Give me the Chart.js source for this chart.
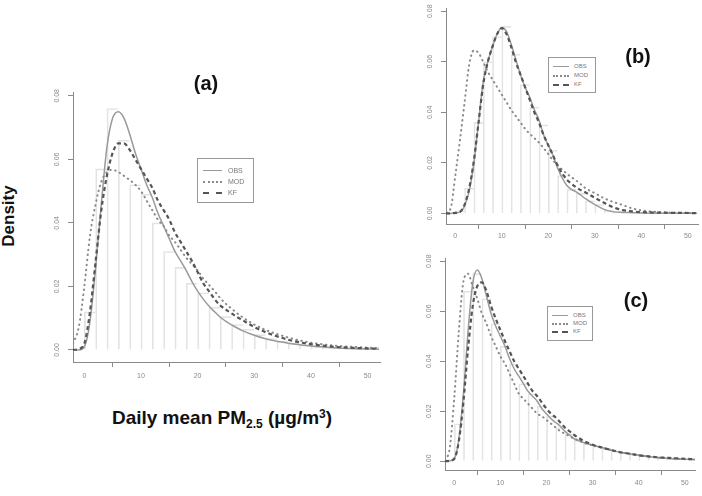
<!DOCTYPE html>
<html>
<head>
<meta charset="utf-8">
<script src="https://cdn.jsdelivr.net/npm/chart.js@4.4.1/dist/chart.umd.min.js"></script>
<style>
  body { margin: 0; width: 702px; height: 496px; background: #fff; position: relative; overflow: hidden; font-family: "Liberation Sans", Arial, sans-serif; }
  canvas { position: absolute; }
  .lbl { position: absolute; font-weight: bold; color: #111; white-space: nowrap; line-height: 1; }
  .lbl sub { font-size: 12px; vertical-align: -4px; line-height: 0; }
  .lbl sup { font-size: 12px; vertical-align: 6px; line-height: 0; }
  .legend { position: absolute; border: 1px solid #999; box-sizing: border-box; background: #fff; }
  .legend .ln { position: absolute; height: 0; }
  .legend .tx { position: absolute; color: #777; line-height: 1; transform: translateY(-50%); }
</style>
</head>
<body>
<canvas id="chartA" width="347" height="305" style="left:38px;top:82px"></canvas>
<canvas id="chartB" width="291" height="249" style="left:411px;top:0px"></canvas>
<canvas id="chartC" width="290" height="245" style="left:410px;top:250px"></canvas>

<div class="lbl" style="left:206px;top:83px;font-size:20px;transform:translate(-50%,-50%)">(a)</div>
<div class="lbl" style="left:638px;top:56px;font-size:20px;transform:translate(-50%,-50%)">(b)</div>
<div class="lbl" style="left:636px;top:300px;font-size:20px;transform:translate(-50%,-50%)">(c)</div>
<div class="lbl" style="left:8px;top:216px;font-size:17px;transform:translate(-50%,-50%) rotate(-90deg)">Density</div>
<div class="lbl" style="left:222px;top:417px;font-size:19px;transform:translate(-50%,-50%)">Daily mean PM<sub>2.5</sub> (µg/m<sup>3</sup>)</div>

<script>
// x positions of the density curves
const xGrid = [-2, -1, 0, 1, 2, 3, 4, 5, 6, 7, 8, 9, 10, 11, 12, 13, 14, 15, 16, 17, 18, 19, 20,
  21, 22, 23, 24, 25, 26, 27, 28, 30, 32, 34, 36, 38, 40, 44, 48, 52];
// histogram bins, width 2, centres
const binCenters = [1, 3, 5, 7, 9, 11, 13, 15, 17, 19, 21, 23, 25, 27, 29, 31, 33, 35, 37, 39, 41, 43, 45, 47, 49, 51];
const xTicks = [0, 10, 20, 30, 40, 50];
const yTicks = [0, 0.02, 0.04, 0.06, 0.08];
const seriesNames = ['OBS', 'MOD', 'KF'];

// panel (a)
const histA = [0.012, 0.057, 0.076, 0.066, 0.052, 0.049, 0.040, 0.031, 0.026, 0.021, 0.018, 0.0135, 0.0105,
  0.008, 0.0065, 0.0048, 0.0036, 0.0028, 0.0021, 0.0016, 0.0012, 0.0009, 0.0007, 0.0005, 0.0004, 0.0003];
const obsA = [0, 0, 0.001, 0.009, 0.026, 0.046, 0.064, 0.073, 0.075, 0.073, 0.068, 0.062, 0.057, 0.052, 0.048,
  0.043, 0.039, 0.035, 0.031, 0.028, 0.025, 0.0215, 0.0185, 0.016, 0.0138, 0.012, 0.0103, 0.009, 0.0079,
  0.0069, 0.006, 0.0046, 0.0035, 0.0027, 0.0021, 0.0016, 0.0012, 0.0007, 0.0004, 0.0002];
const modA = [0.002, 0.007, 0.020, 0.036, 0.046, 0.053, 0.056, 0.0567, 0.056, 0.0548, 0.0535, 0.052, 0.050,
  0.047, 0.044, 0.041, 0.039, 0.036, 0.034, 0.0315, 0.029, 0.027, 0.025, 0.0225, 0.0205, 0.0185, 0.0163,
  0.0145, 0.013, 0.0115, 0.0102, 0.008, 0.0063, 0.005, 0.0039, 0.003, 0.0023, 0.0014, 0.0009, 0.0006];
const kfA = [0, 0.0003, 0.002, 0.012, 0.028, 0.044, 0.055, 0.062, 0.065, 0.065, 0.063, 0.060, 0.057, 0.054,
  0.051, 0.047, 0.044, 0.041, 0.037, 0.034, 0.031, 0.028, 0.0245, 0.021, 0.0185, 0.016, 0.014, 0.0127,
  0.0115, 0.0103, 0.0093, 0.0072, 0.0056, 0.0043, 0.0032, 0.0024, 0.0018, 0.001, 0.0006, 0.0004];

// panel (b)
const histB = [0.001, 0.010, 0.036, 0.060, 0.070, 0.074, 0.063, 0.051, 0.042, 0.035, 0.025, 0.015, 0.0095,
  0.008, 0.005, 0.0035, 0.0012, 0.0006, 0.0004, 0.0003, 0.0002, 0.0001, 0.0001, 0.0001, 0.0001, 0.0001];
const obsB = [0, 0, 0.0002, 0.0005, 0.003, 0.009, 0.020, 0.036, 0.052, 0.060, 0.066, 0.071, 0.0736, 0.072,
  0.067, 0.061, 0.055, 0.050, 0.046, 0.041, 0.037, 0.031, 0.027, 0.023, 0.018, 0.014, 0.011, 0.0095, 0.0085,
  0.0072, 0.0058, 0.0035, 0.0016, 0.0006, 0.0004, 0.0003, 0.0002, 0.0001, 0.0001, 0.0001];
const modB = [0.0005, 0.002, 0.015, 0.029, 0.044, 0.059, 0.0645, 0.0635, 0.060, 0.056, 0.053, 0.050, 0.047,
  0.044, 0.041, 0.0385, 0.036, 0.0335, 0.0315, 0.0298, 0.028, 0.0258, 0.0235, 0.021, 0.019, 0.0173, 0.0157,
  0.0143, 0.013, 0.0115, 0.010, 0.008, 0.006, 0.0045, 0.0033, 0.002, 0.0012, 0.0005, 0.0002, 0.0001];
const kfB = [0, 0, 0.0002, 0.0006, 0.0035, 0.010, 0.021, 0.036, 0.051, 0.060, 0.066, 0.071, 0.0733, 0.071,
  0.066, 0.060, 0.055, 0.050, 0.045, 0.040, 0.036, 0.031, 0.027, 0.023, 0.019, 0.0158, 0.0133, 0.0117,
  0.0103, 0.0092, 0.0083, 0.0062, 0.0042, 0.0024, 0.0013, 0.0008, 0.0005, 0.0003, 0.0002, 0.0001];

// panel (c)
const histC = [0.015, 0.068, 0.075, 0.065, 0.055, 0.046, 0.039, 0.031, 0.027, 0.022, 0.018, 0.0135, 0.011,
  0.0085, 0.007, 0.006, 0.0052, 0.0042, 0.0034, 0.0028, 0.0022, 0.0018, 0.0014, 0.0012, 0.001, 0.0008];
const obsC = [0, 0.0002, 0.001, 0.009, 0.027, 0.052, 0.071, 0.0765, 0.073, 0.066, 0.059, 0.054, 0.050, 0.046,
  0.041, 0.037, 0.034, 0.031, 0.028, 0.026, 0.024, 0.021, 0.019, 0.017, 0.0155, 0.014, 0.012, 0.0105, 0.009,
  0.0082, 0.0075, 0.0064, 0.0055, 0.0045, 0.0036, 0.003, 0.0024, 0.0015, 0.001, 0.0007];
const modC = [0.0005, 0.005, 0.025, 0.052, 0.072, 0.075, 0.070, 0.065, 0.059, 0.055, 0.050, 0.046, 0.042,
  0.039, 0.035, 0.031, 0.027, 0.025, 0.023, 0.021, 0.019, 0.018, 0.0165, 0.015, 0.0135, 0.012, 0.011, 0.010,
  0.009, 0.0083, 0.0075, 0.0064, 0.0054, 0.0044, 0.0036, 0.003, 0.0024, 0.0015, 0.001, 0.0007];
const kfC = [0, 0.0002, 0.001, 0.008, 0.024, 0.045, 0.062, 0.070, 0.0715, 0.068, 0.062, 0.057, 0.0525, 0.048,
  0.044, 0.040, 0.037, 0.034, 0.031, 0.028, 0.026, 0.0235, 0.021, 0.019, 0.0175, 0.0155, 0.0135, 0.012,
  0.0105, 0.0093, 0.0082, 0.0066, 0.0055, 0.0045, 0.0036, 0.003, 0.0024, 0.0016, 0.0012, 0.0008];

// line look per series: OBS solid, MOD dotted, KF dashed
const lineStyles = {
  OBS: { color: '#9a9a9a', width: 1.5, dash: [], css: '1px solid #9a9a9a' },
  MOD: { color: '#8a8a8a', width: 2, dash: [0.5, 4.5], css: '2px dotted #8a8a8a' },
  KF:  { color: '#555555', width: 2.2, dash: [4, 3], css: '2px dashed #555' }
};

const toPoints = (xs, ys) => xs.map((x, i) => ({ x: x, y: ys[i] }));
const tickFont = { family: 'Liberation Sans', size: 7 };

const makeChart = (id, hist, curves, yMin, padTop, padRight, xPad) => {
  const datasets = [{
    type: 'bar',
    data: toPoints(binCenters, hist),
    backgroundColor: 'rgba(0,0,0,0)',
    borderColor: '#e3e3e3',
    borderWidth: { top: 1, left: 1, right: 0, bottom: 0 },
    borderSkipped: false,
    barPercentage: 1,
    categoryPercentage: 1,
    order: 10
  }];
  seriesNames.forEach((name, i) => {
    const st = lineStyles[name];
    datasets.push({
      label: name,
      data: toPoints(xGrid, curves[i]),
      borderColor: st.color,
      borderWidth: st.width,
      borderDash: st.dash,
      borderCapStyle: name === 'MOD' ? 'round' : 'butt',
      pointRadius: 0,
      fill: false,
      cubicInterpolationMode: 'monotone',
      order: 3 - i
    });
  });

  new Chart(document.getElementById(id), {
    type: 'line',
    data: { datasets: datasets },
    options: {
      responsive: false,
      animation: false,
      devicePixelRatio: 1,
      layout: { padding: { top: padTop, right: padRight, left: 0, bottom: 0 } },
      plugins: { legend: { display: false }, tooltip: { enabled: false } },
      scales: {
        x: {
          type: 'linear',
          min: -2,
          max: 52.2,
          offset: false,
          afterBuildTicks: s => { s.ticks = xTicks.map(v => ({ value: v })); },
          afterFit: s => { s.height = 25; },
          grid: { drawOnChartArea: false, drawTicks: true, tickLength: 5, color: '#8a8a8a' },
          border: { color: '#8a8a8a' },
          ticks: { font: tickFont, color: '#8a8a8a', padding: xPad, maxRotation: 0, autoSkip: false }
        },
        y: {
          type: 'linear',
          min: yMin,
          max: 0.0812,
          afterBuildTicks: s => { s.ticks = yTicks.map(v => ({ value: v })); },
          afterFit: s => { s.width = 35; },
          grid: { drawOnChartArea: false, drawTicks: true, tickLength: 5, color: '#8a8a8a' },
          border: { color: '#8a8a8a' },
          ticks: {
            font: tickFont, color: '#8a8a8a', padding: 4,
            minRotation: 90, maxRotation: 90, crossAlign: 'center',
            callback: v => v.toFixed(2)
          }
        }
      }
    }
  });
};

makeChart('chartA', histA, [obsA, modA, kfA], -0.0038, 10, 5, 5);
makeChart('chartB', histB, [obsB, modB, kfB], -0.0042, 2, 4, 3);
makeChart('chartC', histC, [obsC, modC, kfC], -0.0035, 4, 5, 4);

// legends (plain html boxes inside each panel)
const addLegend = (left, top, w, h, rowYs, lineX, lineW, textX, fontSize) => {
  const box = document.createElement('div');
  box.className = 'legend';
  Object.assign(box.style, { left: left + 'px', top: top + 'px', width: w + 'px', height: h + 'px' });
  seriesNames.forEach((name, i) => {
    const ln = document.createElement('div');
    ln.className = 'ln';
    Object.assign(ln.style, { left: lineX + 'px', top: rowYs[i] + 'px', width: lineW + 'px', borderTop: lineStyles[name].css });
    const tx = document.createElement('div');
    tx.className = 'tx';
    tx.textContent = name;
    Object.assign(tx.style, { left: textX + 'px', top: rowYs[i] + 'px', fontSize: fontSize + 'px' });
    box.appendChild(ln);
    box.appendChild(tx);
  });
  document.body.appendChild(box);
};

addLegend(197, 158, 57, 45, [11, 22, 33], 5, 19, 30, 7);
addLegend(548, 57, 48, 36, [8, 17, 26], 4, 16, 25, 6);
addLegend(547, 306, 46, 35, [8, 16, 24], 4, 16, 25, 6);
</script>
</body>
</html>
